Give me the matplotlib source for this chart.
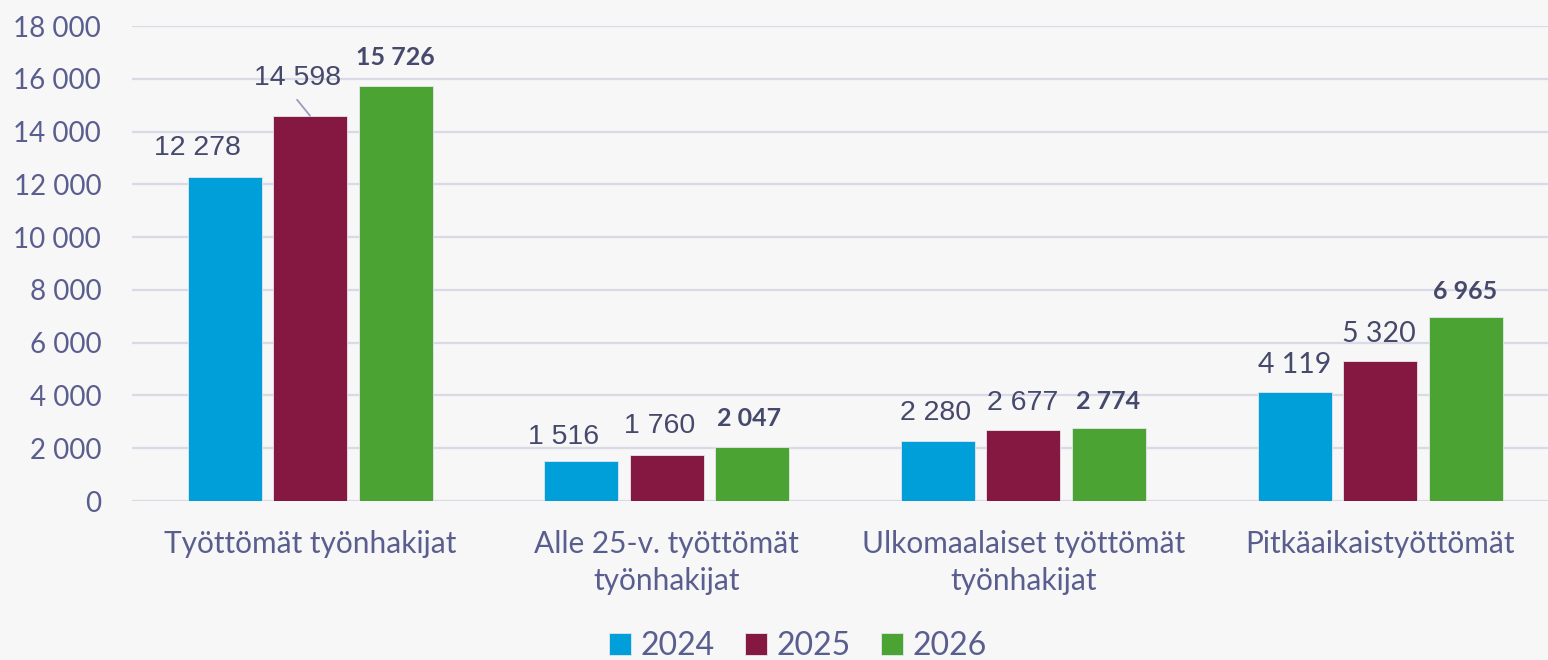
import matplotlib
matplotlib.use("Agg")
import matplotlib.pyplot as plt
import numpy as np

categories = ["Työttömät työnhakijat", "Alle 25-v. työttömät\ntyönhakijat",
              "Ulkomaalaiset työttömät\ntyönhakijat", "Pitkäaikaistyöttömät"]
years = ["2024", "2025", "2026"]
v2024 = [12278, 1516, 2280, 4119]
v2025 = [14598, 1760, 2677, 5320]
v2026 = [15726, 2047, 2774, 6965]
yticks = list(range(0, 18001, 2000))

colors = ["#009FDA", "#851840", "#4BA333"]
bg = "#F7F7F7"
tick_col = "#5A5E8E"
lab_col = "#45496B"

def fmt(v):
    return f"{v:,}".replace(",", " ")

fig = plt.figure(figsize=(15.48, 6.6), dpi=100, facecolor=bg)
ax = fig.add_axes([0.0851, 0.2409, 0.9216, 0.7197], facecolor=bg)

x = np.arange(len(categories))
w = 0.2075
step = 0.2397
series = [v2024, v2025, v2026]
bars = []
for i, (vals, c) in enumerate(zip(series, colors)):
    b = ax.bar(x + (i - 1) * step, vals, w, color=c, edgecolor="#E6E6EE",
               linewidth=0.6, zorder=3, label=years[i])
    bars.append(b)

ax.set_xlim(-0.5, 3.5)
ax.set_ylim(0, 18000)
ax.set_yticks(yticks)
ax.set_yticklabels([fmt(t) for t in yticks])
ax.yaxis.grid(True, color="#D9DAE6", linewidth=1.6, zorder=0)
ax.set_axisbelow(True)
for s in ax.spines.values():
    s.set_visible(False)
ax.tick_params(axis="y", length=0, pad=22, labelsize=20, labelcolor=tick_col)
ax.tick_params(axis="x", length=0, pad=21, labelsize=21.5, labelcolor=tick_col)
for t in ax.get_yticklabels():
    t.set_fontfamily("Lato")
ax.set_xticks(x)
ax.set_xticklabels(categories, fontfamily="Lato", linespacing=1.4)

# label offsets in pixels (dx, dy) relative to bar top center
offs = {
    (0, 0): (-27, 29), (0, 1): (-13, 38), (0, 2): (0, 29),
    (1, 0): (-18, 24), (1, 1): (-7, 29), (1, 2): (-3, 28),
    (2, 0): (-2, 28), (2, 1): (-1, 27), (2, 2): (-1, 26),
    (3, 0): (0, 27), (3, 1): (-1, 27), (3, 2): (0, 26),
}
pt = 0.72
for i, vals in enumerate(series):
    for j, v in enumerate(vals):
        dx, dy = offs[(j, i)]
        xc = x[j] + (i - 1) * step
        bold = (i == 2)
        fam = "Lato" if (bold or j == 3) else "Liberation Sans"
        ax.annotate(fmt(v), xy=(xc, v), xytext=(dx * pt, dy * pt),
                    textcoords="offset points", ha="center", va="center",
                    color=lab_col, fontsize=18 if bold else 20.5,
                    fontweight="bold" if bold else "normal", fontfamily=fam)
        if (j, i) == (0, 1):
            ax.annotate("", xy=(xc, v), xytext=(-13 * pt, 16 * pt),
                        textcoords="offset points",
                        arrowprops=dict(arrowstyle="-", color="#9A9CBA", lw=1.3,
                                        shrinkA=0, shrinkB=0))

leg = fig.legend(handles=bars, labels=years, loc="center", bbox_to_anchor=(0.5155, 0.021),
                 ncol=3, frameon=False, handlelength=0.68, handleheight=0.68,
                 handletextpad=0.3, columnspacing=0.95, borderaxespad=0, borderpad=0.1,
                 prop={"family": "Lato", "size": 23})
for t in leg.get_texts():
    t.set_color(tick_col)

fig.savefig("out.png", dpi=100, facecolor=bg)
